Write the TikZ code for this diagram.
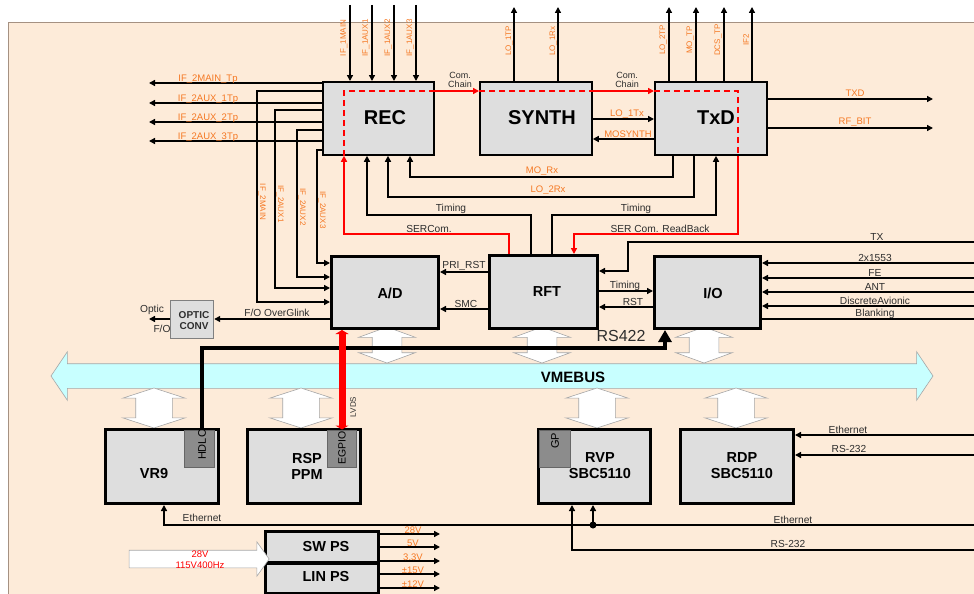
\documentclass[tikz,border=0pt]{standalone}
\usepackage{fontspec}
\setmainfont{Liberation Sans}
\usetikzlibrary{arrows.meta,shapes.arrows}
\definecolor{peach}{RGB}{253,235,217}
\definecolor{blockgray}{RGB}{222,222,222}
\definecolor{subgray}{RGB}{140,140,140}
\definecolor{sigorange}{RGB}{245,120,35}
\definecolor{buscyan}{RGB}{200,255,255}
\definecolor{framebrown}{RGB}{165,145,130}
\definecolor{txtgray}{RGB}{45,45,45}
\begin{document}
\begin{tikzpicture}[x=1pt,y=-1pt,
    blk/.style={draw,fill=blockgray,line width=1.8pt,inner sep=0pt,anchor=north west},
    blkb/.style={blk,line width=3pt},
    subblk/.style={draw=black!60,fill=subgray,line width=0.8pt,inner sep=0pt,anchor=north west},
    bigname/.style={font=\fontsize{20}{22}\selectfont\bfseries},
    bname/.style={font=\fontsize{14.5}{16}\selectfont\bfseries,align=center},
    sig/.style={font=\fontsize{10.2}{11}\selectfont,text=txtgray,inner sep=0pt},
    osig/.style={font=\fontsize{9.5}{10}\selectfont,text=sigorange,inner sep=0pt},
    vsig/.style={font=\fontsize{8}{9}\selectfont,text=sigorange,inner sep=0pt},
    wire/.style={line width=1.4pt},
    arr/.style={wire,-{Triangle[length=6pt,width=6pt]}},
    redarr/.style={draw=red,line width=1.4pt,-{Triangle[length=6pt,width=6pt]}},
    reddash/.style={draw=red,line width=1.8pt,dash pattern=on 6pt off 4pt},
    vmearr/.style={draw=gray!70,fill=white,line width=0.6pt,double arrow,rotate=90,inner xsep=0pt}]
    % escala: 1 px = 1 pt
    \useasboundingbox (0,0) rectangle (974,594);
    \fill[peach] (8,22) rectangle (974,594);
    \draw[framebrown,line width=0.8pt] (974,22) -- (8,22) -- (8,594);
    \coordinate (top) at (0,5);
    \coordinate (topout) at (0,7);
    \coordinate (redge) at (974,0);
    \coordinate (ledge) at (149,0);
    \coordinate (rout) at (933,0);
    \coordinate (pout) at (440,0);

    % barramento
    \node[draw=gray!70,fill=buscyan,line width=0.6pt,double arrow,inner xsep=0pt,inner ysep=12pt,
        minimum height=882,double arrow head extend=12,
        double arrow tip angle=112] (vme) at (492,376) {};
    \node[font=\fontsize{15}{16}\selectfont\bfseries] at (573,377) {VMEBUS};
    \foreach \x/\n in {387/a,542/b,704/c}{
        \node[vmearr,inner ysep=14.5pt,minimum height=36,double arrow head extend=13.5,
            double arrow tip angle=140] (up\n) at (\x,345) {};
    }
    \foreach \x/\n in {154/a,301/b,597/c,736/d}{
        \node[vmearr,inner ysep=18pt,minimum height=40,double arrow head extend=13,
            double arrow tip angle=144] (dn\n) at (\x,408) {};
    }

    % blocos
    \node[blk,minimum width=111,minimum height=73] (rec) at (322,81) {};
    \node[blk,minimum width=112,minimum height=73] (synth) at (479,81) {};
    \node[blk,minimum width=112,minimum height=73] (txd) at (654,81) {};
    \node[blkb,minimum width=107,minimum height=72] (ad) at (330,255) {};
    \node[blkb,minimum width=108,minimum height=73] (rft) at (488,254) {};
    \node[blkb,minimum width=106,minimum height=72] (io) at (653,255) {};
    \node[blk,draw=gray,line width=1.2pt,minimum width=43,minimum height=38] (optic) at (170,300) {};
    \node[blkb,minimum width=113,minimum height=74] (vr9) at (104,428) {};
    \node[blkb,minimum width=113,minimum height=74] (rsp) at (246,428) {};
    \node[blkb,minimum width=112,minimum height=74] (rvp) at (537,428) {};
    \node[blkb,minimum width=113,minimum height=74] (rdp) at (679,428) {};
    \node[blkb,minimum width=113,minimum height=31] (swps) at (264,530) {};
    \node[blkb,minimum width=113,minimum height=30] (linps) at (264,562) {};
    \node[subblk,minimum width=30,minimum height=37] (hdlc) at (184,429.5) {};
    \node[subblk,minimum width=29,minimum height=37] (egpio) at (327,429.5) {};
    \node[subblk,minimum width=31,minimum height=37] (gp) at (538.5,429.5) {};

    \node[bigname] at (385,118) {REC};
    \node[bigname] at (542,118) {SYNTH};
    \node[bigname] at (716,118) {TxD};
    \node[bname] at (390,293) {A/D};
    \node[bname] at (547,292) {RFT};
    \node[bname] at (713,293) {I/O};
    \node[bname] at (154,474) {VR9};
    \node[bname] at (307,466) {RSP\\PPM};
    \node[bname] at (600,466) {RVP\\SBC5110};
    \node[bname] at (742,466) {RDP\\SBC5110};
    \node[bname] at (326,547) {SW PS};
    \node[bname] at (326,577) {LIN PS};
    \node[font=\fontsize{10}{10.5}\selectfont\bfseries,text=txtgray,align=center] at (194,320.5) {OPTIC\\CONV};
    \node[font=\fontsize{11}{12}\selectfont,rotate=90] at (202,445) {HDLC};
    \node[font=\fontsize{10.5}{12}\selectfont,rotate=90] at (342,448) {EGPIO};
    \node[font=\fontsize{11}{12}\selectfont,rotate=90] at (555,441) {GP};

    % entradas e saidas verticais
    \foreach \x/\t in {350/IF\_1MAIN,372/IF\_1AUX1,394/IF\_1AUX2,416/IF\_1AUX3}{
        \draw[arr] (top -| \x,0) -- (rec.north -| \x,0);
        \node[vsig,rotate=90] at (\x-6,38) {\t};
    }
    \foreach \x/\t in {514/LO\_1TP,558/LO\_1Rx}{
        \draw[arr] (synth.north -| \x,0) -- (topout -| \x,0);
        \node[vsig,rotate=90] at (\x-5,41) {\t};
    }
    \foreach \x/\t in {669/LO\_2TP,696/MO\_TP,724/DCS\_TP,752/IF2}{
        \draw[arr] (txd.north -| \x,0) -- (topout -| \x,0);
        \node[vsig,rotate=90] at (\x-6,40) {\t};
    }

    % cadeia de comando
    \draw[reddash] (rec.south -| 344,0) -- (344,91) -- (rec.east |- 0,91);
    \draw[redarr] (rec.east |- 0,91) -- (synth.west |- 0,91);
    \draw[reddash] (synth.west |- 0,91) -- (synth.east |- 0,91);
    \draw[redarr] (synth.east |- 0,91) -- (txd.west |- 0,91);
    \draw[reddash] (txd.west |- 0,91) -- (738,91) -- (txd.south -| 738,0);
    \node[sig,font=\fontsize{9}{9.5}\selectfont,align=center] at (460,80) {Com.\\Chain};
    \node[sig,font=\fontsize{9}{9.5}\selectfont,align=center] at (627,80) {Com.\\Chain};

    \draw[arr] (synth.east |- 0,119) -- (txd.west |- 0,119);
    \node[osig] at (627,114) {LO\_1Tx};
    \draw[arr] (txd.west |- 0,139) -- (synth.east |- 0,139);
    \node[osig] at (628,134) {MOSYNTH};

    \draw[arr] (txd.east |- 0,99) -- (rout |- 0,99);
    \node[osig] at (855,93) {TXD};
    \draw[arr] (txd.east |- 0,128) -- (rout |- 0,128);
    \node[osig] at (855,122) {RF\_BIT};

    \foreach \y/\t in {83/IF\_2MAIN\_Tp,103/IF\_2AUX\_1Tp,122/IF\_2AUX\_2Tp,141/IF\_2AUX\_3Tp}{
        \draw[arr] (rec.west |- 0,\y) -- (ledge |- 0,\y);
        \node[osig] at (208,\y-4) {\t};
    }
    \foreach \ya/\x/\yb/\yl/\t in {91/257/302/202/IF\_2MAIN,110/275/288/204/IF\_2AUX1,
        130/297/277/207/IF\_2AUX2,150/317/263/210/IF\_2AUX3}{
        \draw[arr] (rec.west |- 0,\ya) -| (\x,\yb) -- (ad.west |- 0,\yb);
        \node[vsig,rotate=-90] at (\x+5,\yl) {\t};
    }

    % retornos para REC e TxD
    \draw[arr] (txd.south -| 673,0) |- (410,177) -- (rec.south -| 410,0);
    \node[osig] at (542,171) {MO\_Rx};
    \draw[arr] (txd.south -| 694,0) |- (388,197) -- (rec.south -| 388,0);
    \node[osig] at (548,190) {LO\_2Rx};
    \draw[arr] (rft.north -| 531,0) |- (367,215) -- (rec.south -| 367,0);
    \node[sig] at (451,209) {Timing};
    \draw[arr] (rft.north -| 552,0) |- (716,215) -- (txd.south -| 716,0);
    \node[sig] at (636,209) {Timing};
    \draw[redarr] (rft.north -| 509,0) |- (344,234) -- (rec.south -| 344,0);
    \node[sig] at (429,229) {SERCom.};
    \draw[redarr] (txd.south -| 738,0) |- (574,234) -- (rft.north -| 574,0);
    \node[sig] at (660,229) {SER Com. ReadBack};

    % A/D, RFT, I/O
    \draw[arr] (rft.west |- 0,272) -- (ad.east |- 0,272);
    \node[sig] at (464,266) {PRI\_RST};
    \draw[arr] (rft.west |- 0,309) -- (ad.east |- 0,309);
    \node[sig] at (466,304) {SMC};
    \draw[arr] (ad.west |- 0,319) -- (optic.east |- 0,319);
    \node[sig] at (277,313) {F/O OverGlink};
    \draw[arr] (optic.west |- 0,319) -- (ledge |- 0,319);
    \node[sig] at (152,310) {Optic};
    \node[sig] at (162,329) {F/O};
    \draw[arr] (rft.east |- 0,291) -- (io.west |- 0,291);
    \node[sig] at (625,286) {Timing};
    \draw[arr] (io.west |- 0,307) -- (rft.east |- 0,307);
    \node[sig] at (633,302) {RST};
    \draw[arr] (redge |- 0,242) -| (628,271) -- (rft.east |- 0,271);
    \node[sig] at (877,237) {TX};
    \foreach \y/\t in {263/2x1553,278/FE,292/ANT,306/DiscreteAvionic}{
        \draw[arr] (redge |- 0,\y) -- (io.east |- 0,\y);
        \node[sig] at (875,\y-5) {\t};
    }
    \draw[wire] (redge |- 0,319) -- (io.east |- 0,319);
    \node[sig] at (875,314) {Blanking};

    % RS422 e LVDS
    \draw[line width=4pt,line join=miter,-{Triangle[length=12pt,width=13pt]}]
        (hdlc.north -| 202,0) |- (665,348) -- (io.south -| 665,0);
    \node[font=\fontsize{16}{17}\selectfont,text=txtgray] at (621,336) {RS422};
    \draw[red,line width=7pt,{Triangle[length=4pt,width=13pt]}-{Triangle[length=4pt,width=13pt]}]
        (ad.south -| 342,0) -- (egpio.north -| 342,0);
    \node[sig,font=\fontsize{8}{9}\selectfont,rotate=90] at (353,407) {LVDS};

    % rede inferior
    \draw[arr] (redge |- 0,435) -- (rdp.east |- 0,435);
    \node[sig] at (848,430) {Ethernet};
    \draw[arr] (redge |- 0,455) -- (rdp.east |- 0,455);
    \node[sig] at (849,449) {RS-232};
    \coordinate (ethj) at (593,525);
    \draw[arr] (redge |- 0,525) -| (vr9.south -| 164,0);
    \draw[arr] (ethj) -- (rvp.south -| ethj);
    \fill (ethj) circle (3.5);
    \node[sig] at (202,518) {Ethernet};
    \node[sig] at (793,520) {Ethernet};
    \draw[arr] (redge |- 0,550) -| (rvp.south -| 572,0);
    \node[sig] at (788,544) {RS-232};

    % alimentacao
    \node[draw=gray!70,fill=white,line width=0.6pt,single arrow,inner xsep=0pt,inner ysep=8.5pt,
        minimum height=140,single arrow head extend=8.5,
        single arrow tip angle=109] (pwrin) at (196,559) {};
    \node[font=\fontsize{9.5}{10.5}\selectfont,text=red,align=center] at (200,559.5) {28V\\115V400Hz};
    \foreach \y/\t in {534/28V,547/5V,561/3.3V,574/±15V,588/±12V}{
        \draw[arr] (swps.east |- 0,\y) -- (pout |- 0,\y);
        \node[osig] at (413,\y-4) {\t};
    }
\end{tikzpicture}
\end{document}
